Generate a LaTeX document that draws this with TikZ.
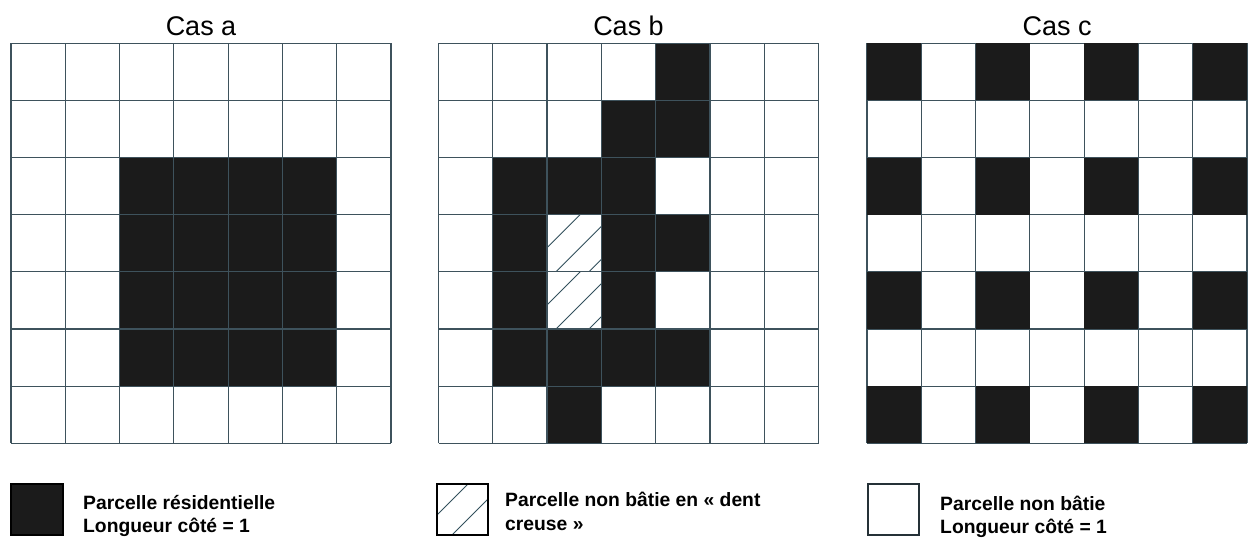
\documentclass[tikz,border=0pt]{standalone}
\usepackage{fontspec}
\setmainfont{Liberation Sans}
\definecolor{gridcol}{RGB}{62,82,92}
\definecolor{cellblack}{RGB}{27,27,27}
\definecolor{hatchcol}{RGB}{50,80,92}
\tikzset{
  gridline/.style={draw=gridcol, line width=1.2pt},
  blackcell/.style={fill=cellblack},
  hatchline/.style={draw=hatchcol, line width=0.9pt},
  title/.style={font=\fontsize{27}{32}\selectfont, anchor=base, inner sep=0pt},
  legtext/.style={font=\bfseries\fontsize{19.3}{23.5}\selectfont, align=left, anchor=base west, inner sep=0pt},
  legbox/.style={draw=black, line width=1.1pt},
}
\begin{document}
\begin{tikzpicture}[x=1pt,y=-1pt]
\useasboundingbox[fill=white] (0,0) rectangle (1254,547);
\def\cw{54.29}
\def\ch{57.14}
\def\oy{43.3}
% ---------- Cas a ----------
\def\ox{11}
\foreach \r in {2,...,5}{\foreach \c in {2,...,5}{
  \fill[blackcell] ({\ox+\c*\cw},{\oy+\r*\ch}) rectangle ++(\cw,\ch);}}
\foreach \i in {0,...,7}{
  \draw[gridline] ({\ox+\i*\cw},\oy) -- ++(0,{7*\ch});
  \draw[gridline] (\ox,{\oy+\i*\ch}) -- ++({7*\cw},0);}
\node[title] (ta) at ({\ox+3.5*\cw},35.5) {Cas a};
% ---------- Cas b ----------
\def\ox{438.5}
\foreach \r/\c in {0/4,1/3,1/4,2/1,2/2,2/3,3/1,3/3,3/4,4/1,4/3,5/1,5/2,5/3,5/4,6/2}{
  \fill[blackcell] ({\ox+\c*\cw},{\oy+\r*\ch}) rectangle ++(\cw,\ch);}
\foreach \r in {3,4}{
  \begin{scope}
    \clip ({\ox+2*\cw},{\oy+\r*\ch}) rectangle ++(\cw,\ch);
    \foreach \s in {33,66,99}{
      \draw[hatchline] ({\ox+2*\cw+\s+100},{\oy+\r*\ch-100}) -- ++(-200,200);}
  \end{scope}}
\foreach \i in {0,...,7}{
  \draw[gridline] ({\ox+\i*\cw},\oy) -- ++(0,{7*\ch});
  \draw[gridline] (\ox,{\oy+\i*\ch}) -- ++({7*\cw},0);}
\node[title] (tb) at ({\ox+3.5*\cw},35.5) {Cas b};
% ---------- Cas c ----------
\def\ox{867}
\foreach \i in {0,...,7}{
  \draw[gridline] ({\ox+\i*\cw},\oy) -- ++(0,{7*\ch});
  \draw[gridline] (\ox,{\oy+\i*\ch}) -- ++({7*\cw},0);}
\foreach \r in {0,2,4,6}{\foreach \c in {0,2,4,6}{
  \fill[blackcell] ({\ox+\c*\cw},{\oy+\r*\ch}) rectangle ++(\cw,\ch);}}
\node[title] (tc) at ({\ox+3.5*\cw},35.5) {Cas c};
% ---------- Legend ----------
\filldraw[legbox, fill=cellblack] (11,484) rectangle (63,535);
\node[legtext] (la) at (83,532.5) {Parcelle résidentielle\\Longueur côté = 1};
\begin{scope}
  \clip (437,484) rectangle (488,535);
  \foreach \s in {31,66}{
    \draw[hatchline] ({437+\s+100},{484-100}) -- ++(-200,200);}
\end{scope}
\draw[legbox] (437,484) rectangle (488,535);
\node[legtext] (lb) at (505,530) {Parcelle non bâtie en « dent\\creuse »};
\draw[legbox, draw=gridcol!60!black] (868,484) rectangle (919,535);
\node[legtext] (lc) at (940,533.5) {Parcelle non bâtie\\Longueur côté = 1};
\end{tikzpicture}
\end{document}
